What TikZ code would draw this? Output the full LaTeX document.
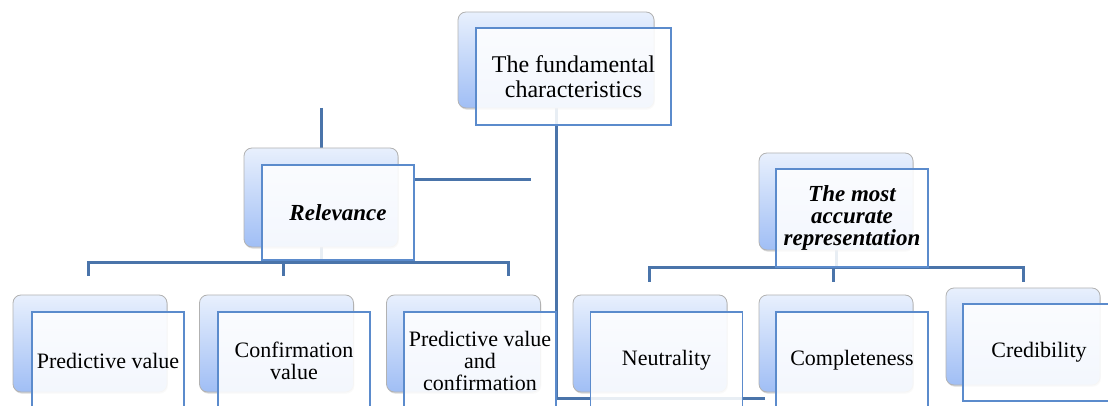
\documentclass[tikz,border=0pt]{standalone}
\usepackage{fontspec}
\setmainfont{Liberation Serif}
\usetikzlibrary{backgrounds,shadows}
\definecolor{linkblue}{RGB}{74,116,170}
\definecolor{edgeblue}{RGB}{91,139,204}
\definecolor{shadetop}{RGB}{232,240,253}
\definecolor{shadebot}{RGB}{160,190,245}
\tikzset{
  shadebox/.style={rectangle, rounded corners=4pt, draw=gray!60, line width=0.4pt,
    top color=shadetop, bottom color=shadebot, inner sep=0pt,
    minimum width=77pt, minimum height=48.5pt,
    drop shadow={shadow xshift=0.4pt, shadow yshift=-0.8pt, opacity=0.3}},
  labelbox/.style={rectangle, draw=edgeblue, line width=0.7pt, fill=white,
    fill opacity=0.88, text opacity=1, inner sep=0pt, align=center,
    minimum width=76pt, minimum height=48.5pt,
    font=\fontsize{11}{11}\selectfont},
  link/.style={draw=linkblue, line width=1.5pt},
}
\begin{document}
\begin{tikzpicture}[x=0.5pt,y=-0.5pt]
  \useasboundingbox (0,0) rectangle (1108,406);
  \clip (0,0) rectangle (1108,406);
  % back boxes
  \node[shadebox, minimum width=98pt, minimum height=48pt] (topback) at (556,60) {};
  \node[shadebox, minimum height=49.5pt] (relback) at (321,197.5) {};
  \node[shadebox] (mostback) at (836,201.5) {};
  \node[shadebox] (pvback) at (90,343.5) {};
  \node[shadebox] (cvback) at (276.5,343.5) {};
  \node[shadebox] (pvcback) at (463.5,343.5) {};
  \node[shadebox] (neuback) at (650,343.5) {};
  \node[shadebox] (comback) at (836,343.5) {};
  \node[shadebox] (creback) at (1023,336.5) {};
  % label boxes
  \node[labelbox, minimum width=97.5pt, font=\fontsize{12}{12.5}\selectfont] (topfront) at (573.5,76.5) {The fundamental\\characteristics};
  \node[labelbox, minimum height=47.5pt, font=\fontsize{11.5}{11}\selectfont\bfseries\itshape] (relfront) at (338,212.5) {Relevance};
  \node[labelbox, minimum height=49pt, font=\fontsize{11.5}{11}\selectfont\bfseries\itshape] (mostfront) at (852,218) {The most\\accurate\\representation};
  \node[labelbox] (pvfront) at (108,360.5) {Predictive value};
  \node[labelbox] (cvfront) at (294,360.5) {Confirmation\\value};
  \node[labelbox] (pvcfront) at (480,360.5) {Predictive value\\and\\confirmation};
  \node[labelbox] (neufront) at (666.5,360.5) {Neutrality};
  \node[labelbox] (comfront) at (852,360.5) {Completeness};
  \node[labelbox] (crefront) at (1039,352.5) {Credibility};
  % connectors
  \begin{pgfonlayer}{background}
    \coordinate (tail) at (765,398);
    \coordinate (relstub) at (321,108);
    \coordinate (relspur) at (531,180);
    \coordinate (pvtip) at (88,276);
    \coordinate (cvtip) at (283,276);
    \coordinate (pvctip) at (508,276);
    \coordinate (neutip) at (649,282);
    \coordinate (comtip) at (833,282);
    \coordinate (cretip) at (1023,282);
    \draw[link] (topback.south) |- (tail);
    \draw[link] (relstub) -- (relback.north);
    \draw[link] (relfront.east |- relspur) -- (relspur);
    \draw[link] (relback.south) -- ++(0,15) coordinate (relbus);
    \draw[link] (pvtip) |- (relbus) -| (pvctip);
    \draw[link] (relbus -| cvtip) -- (cvtip);
    \draw[link] (mostback.south) -- ++(0,17) coordinate (mostbus);
    \draw[link] (neutip) |- (mostbus) -| (cretip);
    \draw[link] (mostbus -| comtip) -- (comtip);
  \end{pgfonlayer}
\end{tikzpicture}
\end{document}
